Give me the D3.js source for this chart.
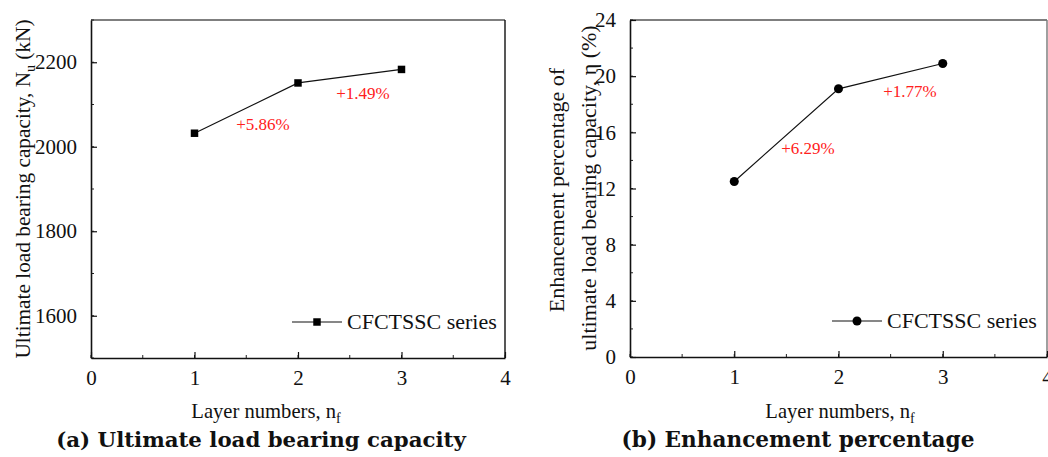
<!DOCTYPE html>
<html>
<head>
<meta charset="utf-8">
<script src="https://cdn.jsdelivr.net/npm/d3@7"></script>
<style>
  body { margin: 0; background: #fff; }
</style>
</head>
<body>
<svg id="chart" width="1048" height="457"></svg>
<script>
// data
var layers = [1, 2, 3];
var capacity = [2032, 2151, 2183];          // N_u (kN)
var enhancement = [12.5, 19.1, 20.9];       // eta (%)
var capLabels = ["+5.86%", "+1.49%"];
var enhLabels = ["+6.29%", "+1.77%"];
var capTicks = [1600, 1800, 2000, 2200];
var enhTicks = [0, 4, 8, 12, 16, 20, 24];
var xTicks = [0, 1, 2, 3, 4];
var seriesName = "CFCTSSC series";

var serif = "'Liberation Serif', 'Times New Roman', serif";
var svg = d3.select("#chart");

function panel(opt) {
  var g = svg.append("g");
  var x = d3.scaleLinear().domain([0, 4]).range([opt.left, opt.right]);
  var y = d3.scaleLinear().domain(opt.yDomain).range([opt.bottom, opt.top]);

  // frame: top and right
  g.append("line").attr("x1", opt.left).attr("x2", opt.right)
    .attr("y1", opt.top).attr("y2", opt.top)
    .attr("stroke", "#555").attr("stroke-width", 1.6);
  g.append("line").attr("x1", opt.right).attr("x2", opt.right)
    .attr("y1", opt.top).attr("y2", opt.bottom)
    .attr("stroke", opt.rightColor).attr("stroke-width", 1.4);

  // minor ticks (inside)
  var yMinor = d3.range(opt.yDomain[0], opt.yDomain[1] + 1e-9, opt.yMinorStep);
  g.selectAll(".ymin").data(yMinor).enter().append("line")
    .attr("x1", opt.left).attr("x2", opt.left + 3)
    .attr("y1", function(d) { return y(d); }).attr("y2", function(d) { return y(d); })
    .attr("stroke", "#222").attr("stroke-width", 1);
  var xMinor = d3.range(0, 4.01, 0.5);
  g.selectAll(".xmin").data(xMinor).enter().append("line")
    .attr("y1", opt.bottom).attr("y2", opt.bottom - 3)
    .attr("x1", function(d) { return x(d); }).attr("x2", function(d) { return x(d); })
    .attr("stroke", "#222").attr("stroke-width", 1);

  // axes with inward ticks
  var yAxis = g.append("g").attr("transform", "translate(" + opt.left + ",0)")
    .call(d3.axisLeft(y).tickValues(opt.yTicks).tickFormat(d3.format("d"))
      .tickSizeInner(-6).tickSizeOuter(0).tickPadding(14));
  var xAxis = g.append("g").attr("transform", "translate(0," + opt.bottom + ")")
    .call(d3.axisBottom(x).tickValues(xTicks).tickFormat(d3.format("d"))
      .tickSizeInner(-6).tickSizeOuter(0).tickPadding(12));
  [yAxis, xAxis].forEach(function(a) {
    a.attr("font-family", null).attr("font-size", null);
    a.select(".domain").attr("stroke", "#111").attr("stroke-width", 1.6);
    a.selectAll(".tick line").attr("stroke", "#111").attr("stroke-width", 1.2);
    a.selectAll("text").style("font-family", serif).style("font-size", "21px").attr("fill", "#111");
  });

  // line + markers
  var pts = layers.map(function(d, i) { return [x(d), y(opt.values[i])]; });
  g.append("path").attr("d", d3.line()(pts)).attr("fill", "none")
    .attr("stroke", "#111").attr("stroke-width", 1.2);
  var sym = d3.symbol().type(opt.symbol).size(opt.symbolSize);
  g.selectAll(".mk").data(pts).enter().append("path")
    .attr("d", sym).attr("transform", function(d) { return "translate(" + d[0] + "," + d[1] + ")"; })
    .attr("fill", "#000");

  // red increase labels
  g.selectAll(".lab").data(opt.labels).enter().append("text")
    .attr("x", function(d, i) { return opt.labelPos[i][0]; })
    .attr("y", function(d, i) { return opt.labelPos[i][1]; })
    .attr("text-anchor", "middle").style("font-family", serif).style("font-size", "17px")
    .attr("fill", "#ff2020")
    .text(function(d) { return d; });

  // legend
  g.append("line").attr("x1", opt.legend[0]).attr("x2", opt.legend[0] + 50)
    .attr("y1", opt.legend[1]).attr("y2", opt.legend[1])
    .attr("stroke", "#111").attr("stroke-width", 1.2);
  g.append("path").attr("d", sym)
    .attr("transform", "translate(" + (opt.legend[0] + 25) + "," + opt.legend[1] + ")").attr("fill", "#000");
  g.append("text").attr("x", opt.legend[0] + 55).attr("y", opt.legend[1] + 7)
    .style("font-family", serif).style("font-size", "22px").attr("fill", "#111").text(seriesName);

  // x title
  var xt = g.append("text").attr("x", opt.xTitleX).attr("y", 418)
    .attr("text-anchor", "middle").style("font-family", serif).style("font-size", "20.6px").attr("fill", "#111");
  xt.append("tspan").text("Layer numbers, n");
  xt.append("tspan").style("font-size", "14px").attr("dy", 5).text("f");

  // caption
  g.append("text").attr("x", opt.captionX).attr("y", 447)
    .attr("text-anchor", "middle").style("font-family", "'DejaVu Serif', serif")
    .style("font-weight", "bold").style("font-size", opt.captionSize).attr("fill", "#111")
    .text(opt.caption);
  return g;
}

var gA = panel({
  left: 91, right: 505, top: 20, bottom: 358,
  yDomain: [1500, 2300], yTicks: capTicks, yMinorStep: 100,
  values: capacity, symbol: d3.symbolSquare, symbolSize: 56,
  labels: capLabels, labelPos: [[263, 130], [363, 99]],
  legend: [292, 322], rightColor: "#111",
  xTitleX: 266, captionX: 261, captionSize: "21.3px", caption: "(a) Ultimate load bearing capacity"
});

var gB = panel({
  left: 630, right: 1047, top: 20, bottom: 357,
  yDomain: [0, 24], yTicks: enhTicks, yMinorStep: 2,
  values: enhancement, symbol: d3.symbolCircle, symbolSize: 64,
  labels: enhLabels, labelPos: [[808, 154], [910, 97]],
  legend: [832, 321], rightColor: "#777",
  xTitleX: 840, captionX: 798, captionSize: "21.6px", caption: "(b) Enhancement percentage"
});

// y titles (rotated)
var ya = svg.append("text").attr("transform", "translate(30,189) rotate(-90)")
  .attr("text-anchor", "middle").style("font-family", serif).style("font-size", "21.3px").attr("fill", "#111");
ya.append("tspan").text("Ultimate load bearing capacity, N");
ya.append("tspan").style("font-size", "14px").attr("dy", 5).text("u");
ya.append("tspan").attr("dy", -5).text(" (kN)");

svg.append("text").attr("transform", "translate(564,190) rotate(-90)")
  .attr("text-anchor", "middle").style("font-family", serif).style("font-size", "22px").attr("fill", "#111")
  .text("Enhancement percentage of");
svg.append("text").attr("transform", "translate(596,188) rotate(-90)")
  .attr("text-anchor", "middle").style("font-family", serif).style("font-size", "22px").attr("fill", "#111")
  .text("ultimate load bearing capacity, \u03b7 (%)");
</script>
</body>
</html>
